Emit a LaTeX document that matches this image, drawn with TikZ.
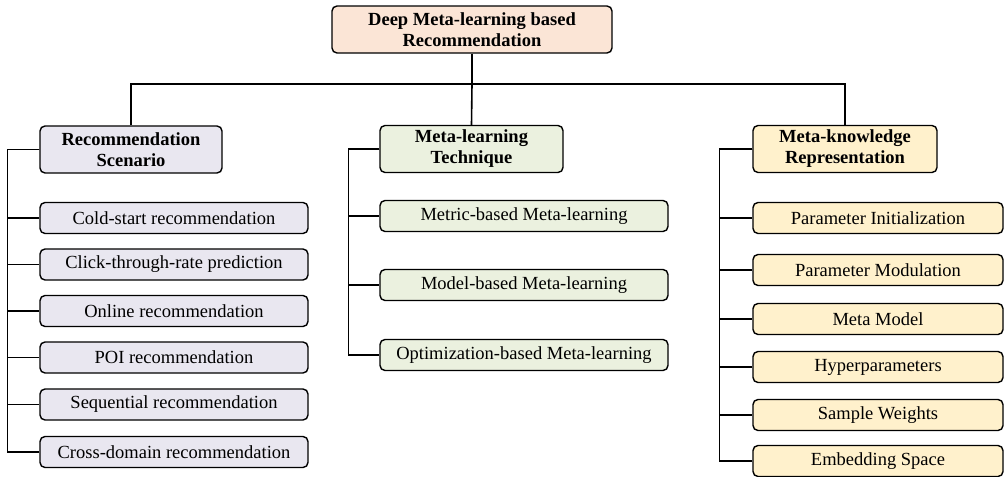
\documentclass[tikz,border=0pt]{standalone}
\usepackage{fontspec}
\setmainfont{Liberation Serif}
\usetikzlibrary{positioning}
\definecolor{rootfill}{HTML}{FBE5D6}
\definecolor{scenfill}{HTML}{E9E7F0}
\definecolor{techfill}{HTML}{EBF1DF}
\definecolor{reprfill}{HTML}{FFF1CC}
\tikzset{
  box/.style={draw, line width=1.4pt, rounded corners=5pt, inner sep=0pt, align=center,
    font=\fontsize{18.5}{21}\selectfont},
  head/.style={box, font=\fontsize{18.5}{21}\selectfont\bfseries, minimum height=47pt},
  leaf/.style={box, minimum height=31pt},
  link/.style={line width=1.6pt}
}
\begin{document}
\begin{tikzpicture}[x=1pt, y=-1pt]
  \useasboundingbox (0,0) rectangle (1005,477);

  \node[head, fill=rootfill, minimum width=280pt] (root) at (472,29.5) {Deep Meta-learning based\\Recommendation};

  \node[head, fill=scenfill, minimum width=182pt] (hs) at (131,149.5) {Recommendation\\Scenario};
  \node[head, fill=techfill, minimum width=183pt] (ht) at (471.5,149) {Meta-learning\\Technique};
  \node[head, fill=reprfill, minimum width=184pt] (hr) at (845,149) {Meta-knowledge\\Representation};

  % top bus
  \coordinate (bus) at (472,84);
  \draw[link] (root.south) -- (bus);
  \draw[link] (hs.north) |- (bus) -| (hr.north);
  \draw[link] (bus) -- (ht.north);

  % scenarios
  \foreach \i/\y/\t in {1/218/Cold-start recommendation, 2/264.5/Click-through-rate prediction,
      3/311/Online recommendation, 4/357.5/POI recommendation,
      5/404.5/Sequential recommendation, 6/452/Cross-domain recommendation} {
    \node[leaf, fill=scenfill, minimum width=268pt] (s\i) at (174,\y) {\t};
    \draw[link] (hs.west) -- ++(-32,0) |- (s\i.west);
  }

  % techniques
  \foreach \i/\y/\t in {1/216/Metric-based Meta-learning, 2/285/Model-based Meta-learning,
      3/355/Optimization-based Meta-learning} {
    \node[leaf, fill=techfill, minimum width=288pt] (t\i) at (524,\y) {\t};
    \draw[link] (ht.west) -- ++(-31,0) |- (t\i.west);
  }

  % representations
  \foreach \i/\y/\t in {1/218/Parameter Initialization, 2/270/Parameter Modulation,
      3/319/Meta Model, 4/367/Hyperparameters,
      5/415/Sample Weights, 6/461/Embedding Space} {
    \node[leaf, fill=reprfill, minimum width=250pt] (r\i) at (878,\y) {\t};
    \draw[link] (hr.west) -- ++(-33,0) |- (r\i.west);
  }
\end{tikzpicture}
\end{document}
